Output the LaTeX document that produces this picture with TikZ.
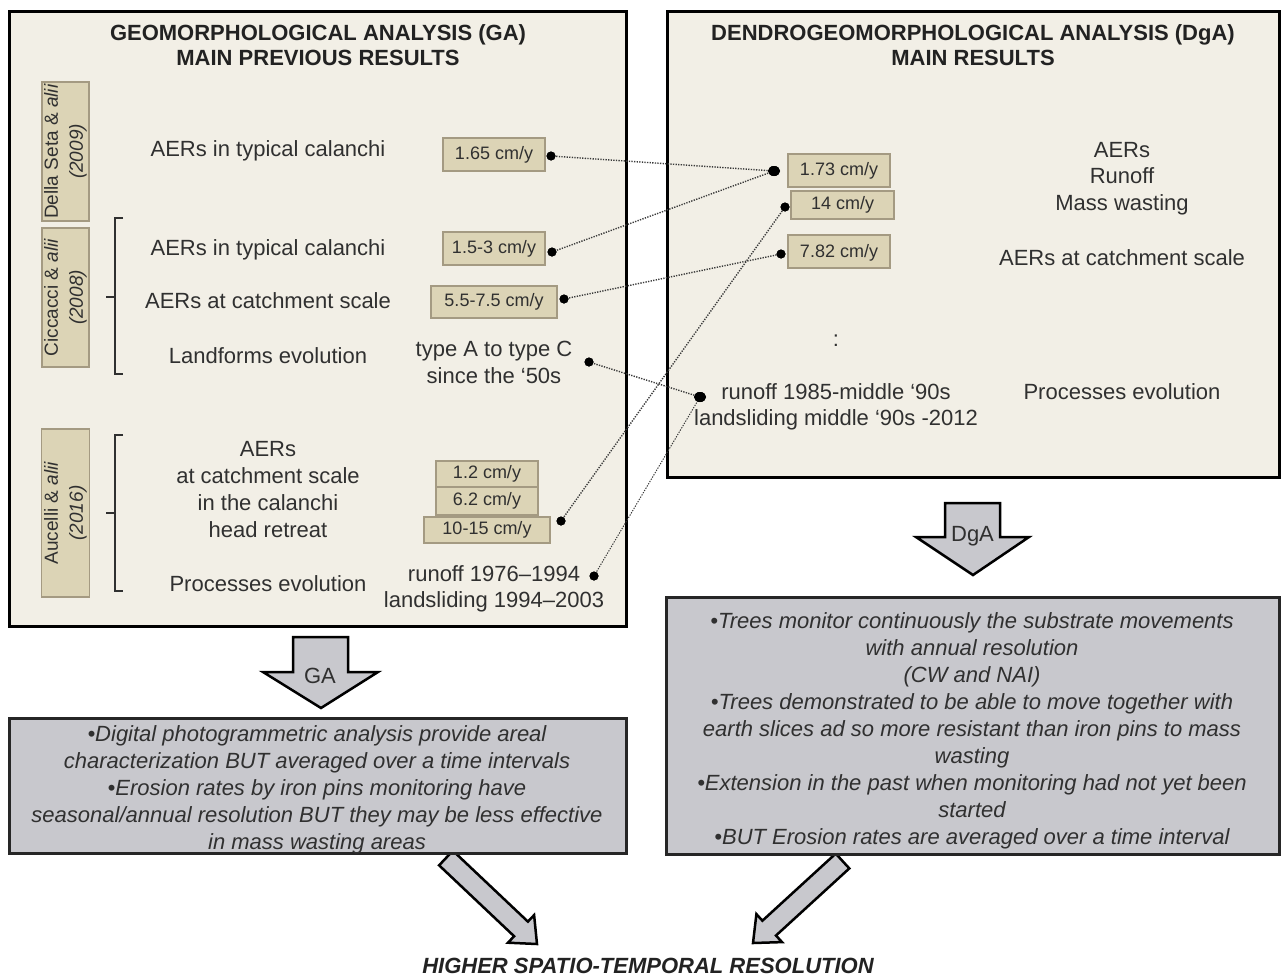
\documentclass[tikz,border=0pt]{standalone}
\usepackage{fontspec}
\usetikzlibrary{shapes.geometric}
\setmainfont{Liberation Sans}
\definecolor{panelc}{HTML}{F2EFE6}
\definecolor{tanFill}{HTML}{DCD4B6}
\definecolor{tanDraw}{HTML}{A49A82}
\definecolor{greyc}{HTML}{C8C8CD}
\definecolor{textc}{HTML}{303030}
\definecolor{titlec}{HTML}{222222}
\definecolor{dotc}{HTML}{3A3A3A}
\newcommand{\fsz}[2]{\fontsize{#1}{#2}\selectfont}
\begin{document}
\begin{tikzpicture}[x=1pt,y=-1pt,
  txt/.style={text=textc, font=\fsz{22}{27}, align=center, anchor=base, inner sep=0},
  ttl/.style={text=titlec, font=\bfseries\fsz{22}{25}, align=center, anchor=base, inner sep=0},
  itx/.style={text=textc, font=\itshape\fsz{22}{27}, align=center, anchor=base, inner sep=0},
  valbox/.style={draw=tanDraw, fill=tanFill, line width=1.2pt, text=textc, font=\fsz{18}{20}, inner sep=0, text height=13pt, text depth=4pt},
  refbox/.style={draw=tanDraw, fill=tanFill, line width=1.2pt, text=textc, font=\fsz{19}{25}, align=center, rotate=90, inner sep=0},
  dotn/.style={circle, fill=black, inner sep=0, minimum size=9pt},
  bigdot/.style={ellipse, fill=black, inner sep=0, minimum width=12pt, minimum height=10pt},
  conn/.style={draw=dotc, line width=1.4pt, dash pattern=on 1.3pt off 1.3pt},
  panel/.style={draw=black, line width=3pt, fill=panelc, inner sep=0},
  greybox/.style={draw=black!85, line width=3pt, fill=greyc, inner sep=0},
  blk/.style={draw=black, line width=2.5pt, fill=greyc, line join=miter},
  brk/.style={draw=textc, line width=1.6pt}
]
\useasboundingbox (0,0) rectangle (1281,977);
\fill[white] (0,0) rectangle (1281,977);

% panels
\node[panel, minimum width=617pt, minimum height=615pt] (pL) at (317.5,318.5) {};
\node[panel, minimum width=612pt, minimum height=466pt] (pR) at (973,244) {};

% titles (base anchor = baseline of last line)
\node[ttl] (ttlL) at (318,65) {GEOMORPHOLOGICAL ANALYSIS (GA)\\MAIN PREVIOUS RESULTS};
\node[ttl] (ttlR) at (973,65) {DENDROGEOMORPHOLOGICAL ANALYSIS (DgA)\\MAIN RESULTS};

% reference labels
\node[refbox, minimum width=139pt, minimum height=47pt] (lDS) at (65.5,151.5) {Della Seta \& \textit{alii}\\\textit{(2009)}};
\node[refbox, minimum width=139pt, minimum height=47pt] (lCi) at (65.5,297.5) {Ciccacci \& \textit{alii}\\\textit{(2008)}};
\node[refbox, minimum width=168pt, minimum height=48pt] (lAu) at (65.5,513) {Aucelli \& \textit{alii}\\\textit{(2016)}};

% brackets
\draw[brk] (123,218) -- (115,218) -- (115,374) -- (123,374);
\draw[brk] (106,297) -- (115,297);
\draw[brk] (123,435) -- (115,435) -- (115,591) -- (123,591);
\draw[brk] (106,513) -- (115,513);

% left texts
\node[txt] (tL1) at (268,156) {AERs in typical calanchi};
\node[txt] (tL2) at (268,255) {AERs in typical calanchi};
\node[txt] (tL3) at (268,308) {AERs at catchment scale};
\node[txt] (tL4) at (268,363) {Landforms evolution};
\node[txt] (tL5) at (268,537) {AERs\\at catchment scale\\in the calanchi\\head retreat};
\node[txt] (tL6) at (268,591) {Processes evolution};
\node[txt] (tA) at (494,383) {type A to type C\\since the ‘50s};
\node[txt, font=\fsz{22}{26}] (t1976) at (494,607) {runoff 1976–1994\\landsliding 1994–2003};

% left values
\node[valbox, minimum width=102pt, minimum height=33pt] (v165) at (494,154.5) {1.65 cm/y};
\node[valbox, minimum width=102pt, minimum height=33pt] (v153) at (494,248.5) {1.5-3 cm/y};
\node[valbox, minimum width=126pt, minimum height=32pt] (v557) at (494,302) {5.5-7.5 cm/y};
\node[valbox, minimum width=102pt, minimum height=26pt] (v12) at (487,474) {1.2 cm/y};
\node[valbox, minimum width=102pt, minimum height=28pt] (v62) at (487,501) {6.2 cm/y};
\node[valbox, minimum width=126pt, minimum height=26pt] (v1015) at (487,530) {10-15 cm/y};

% right texts
\node[txt, font=\fsz{22}{26.5}] (tR1) at (1122,210) {AERs\\Runoff\\Mass wasting};
\node[txt] (tR2) at (1122,265) {AERs at catchment scale};
\node[txt] (tcol) at (836,346) {:};
\node[txt, font=\fsz{22}{26}] (t1985) at (836,425) {runoff 1985-middle ‘90s\\landsliding middle ‘90s -2012};
\node[txt] (tR3) at (1122,399) {Processes evolution};

% right values
\node[valbox, minimum width=102pt, minimum height=33pt] (v173) at (839,170.5) {1.73 cm/y};
\node[valbox, minimum width=103pt, minimum height=28pt] (v14) at (842.5,205) {14 cm/y};
\node[valbox, minimum width=102pt, minimum height=33pt, text height=15pt] (v782) at (839,251.5) {7.82 cm/y};

% dots
\node[dotn] (d165) at (551,156) {};
\node[dotn] (d153) at (552,252) {};
\node[dotn] (d557) at (564,299) {};
\node[dotn] (dA) at (589,362) {};
\node[dotn] (d1015) at (561,521) {};
\node[dotn] (d1976) at (594,576) {};
\node[bigdot] (d173) at (774,171) {};
\node[dotn] (d14) at (785,207) {};
\node[dotn] (d782) at (781,254) {};
\node[bigdot] (d1985) at (700,397) {};

% connectors
\draw[conn] (d165.center) -- (d173.center);
\draw[conn] (d153.center) -- (d173.center);
\draw[conn] (d557.center) -- (d782.center);
\draw[conn] (dA.center) -- (d1985.center);
\draw[conn] (d1015.center) -- (d14.center);
\draw[conn, line width=1pt] (d1976.center) -- (d1985.center);

% dots on top of connectors
\foreach \d in {d165,d153,d557,dA,d1015,d1976,d14,d782}
  \fill[black] (\d) circle (4.5pt);
\fill[black] (d173) ellipse (6pt and 5pt);
\fill[black] (d1985) ellipse (6pt and 5pt);

% block arrows down
\draw[blk] (293,637) -- (348,637) -- (348,672) -- (378,672) -- (321,708) -- (263,672) -- (293,672) -- cycle;
\node[txt] (lGA) at (320,683) {GA};
\draw[blk] (945,503) -- (1000,503) -- (1000,537) -- (1029,537) -- (973,575) -- (916,537) -- (945,537) -- cycle;
\node[txt] (lDgA) at (972.5,541) {DgA};

% diagonal arrows (drawn before the boxes)
\draw[blk] (439.1,865.3) -- (514.1,936.2) -- (508.0,942.7) -- (537,944) -- (534.1,915.1) -- (527.9,921.6) -- (452.9,850.7) -- cycle;
\draw[blk] (849.3,868.4) -- (776.0,935.5) -- (782.0,942.1) -- (753,943) -- (756.4,914.1) -- (762.4,920.7) -- (835.7,853.6) -- cycle;

% bottom boxes
\node[greybox, minimum width=617pt, minimum height=135pt] (boxL) at (317.5,785.5) {};
\node[greybox, minimum width=613pt, minimum height=257pt] (boxR) at (972.5,725.5) {};

\node[itx] (txL) at (317,849) {•Digital photogrammetric analysis provide areal\\characterization BUT averaged over a time intervals\\•Erosion rates by iron pins monitoring have\\seasonal/annual resolution BUT they may be less effective\\in mass wasting areas};
\node[itx] (txR) at (972,844) {•Trees monitor continuously the substrate movements\\with annual resolution\\(CW and NAI)\\•Trees demonstrated to be able to move together with\\earth slices ad so more resistant than iron pins to mass\\wasting\\•Extension in the past when monitoring had not yet been\\started\\•BUT Erosion rates are averaged over a time interval};

\node[text=titlec, font=\bfseries\itshape\fsz{22}{26}, anchor=base, inner sep=0] (hsr) at (648,973) {HIGHER SPATIO-TEMPORAL RESOLUTION};
\end{tikzpicture}
\end{document}
